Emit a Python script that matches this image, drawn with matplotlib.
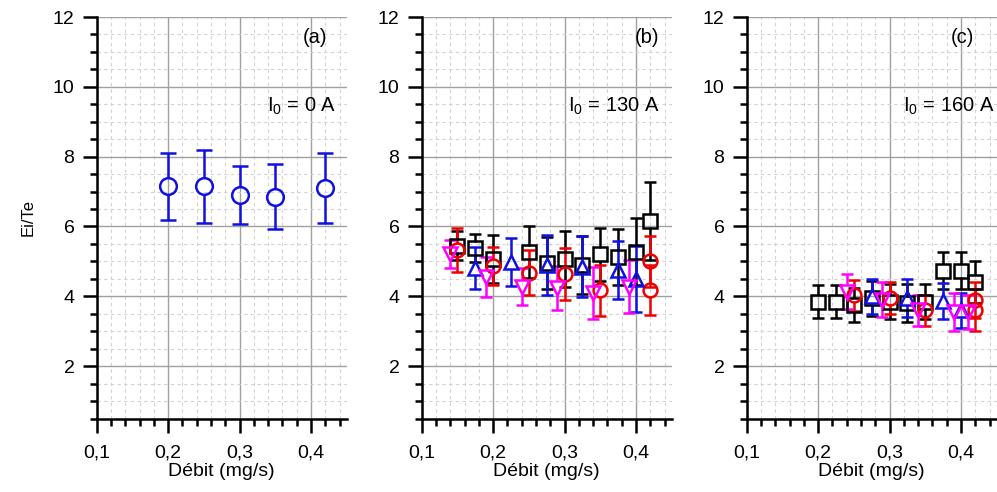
import numpy as np
import matplotlib
matplotlib.use('Agg')
import matplotlib.pyplot as plt
from matplotlib.ticker import MultipleLocator, FixedLocator, FuncFormatter

plt.rcParams['font.family'] = ['Liberation Sans', 'DejaVu Sans']
plt.rcParams['mathtext.fontset'] = 'custom'
plt.rcParams['mathtext.rm'] = 'Liberation Sans'
plt.rcParams['mathtext.it'] = 'Liberation Sans:italic'

# ---------------- data ----------------
# panel (a) I0 = 0 A
a_x = [0.20, 0.25, 0.30, 0.35, 0.42]
a_y = [7.15, 7.15, 6.90, 6.85, 7.10]
a_e = [0.96, 1.05, 0.82, 0.93, 1.00]

# panel (b) I0 = 130 A
b_black_x = [0.15, 0.175, 0.20, 0.25, 0.275, 0.30, 0.325, 0.35, 0.375, 0.40, 0.42]
b_black_y = [5.45, 5.38, 5.06, 5.26, 4.95, 5.07, 4.90, 5.20, 5.13, 5.28, 6.16]
b_black_e = [0.42, 0.40, 0.69, 0.75, 0.75, 0.80, 0.82, 0.75, 0.80, 0.97, 1.12]

b_blue_x = [0.175, 0.225, 0.275, 0.325, 0.375, 0.40]
b_blue_y = [4.82, 4.98, 4.90, 4.85, 4.74, 4.50]
b_blue_e = [0.60, 0.68, 0.86, 0.88, 0.83, 0.94]

b_red_x = [0.15, 0.20, 0.25, 0.30, 0.35, 0.42, 0.42]
b_red_y = [5.33, 4.86, 4.68, 4.63, 4.17, 5.00, 4.18]
b_red_e = [0.62, 0.54, 0.64, 0.75, 0.72, 0.72, 0.72]

b_mag_x = [0.14, 0.19, 0.24, 0.29, 0.34, 0.39]
b_mag_y = [5.20, 4.56, 4.27, 4.25, 4.10, 4.28]
b_mag_e = [0.40, 0.57, 0.53, 0.63, 0.74, 0.77]

# panel (c) I0 = 160 A
c_black_x = [0.20, 0.225, 0.25, 0.275, 0.30, 0.325, 0.35, 0.375, 0.40, 0.42]
c_black_y = [3.85, 3.85, 3.75, 3.95, 3.85, 3.80, 3.85, 4.73, 4.73, 4.42]
c_black_e = [0.46, 0.46, 0.50, 0.50, 0.50, 0.55, 0.50, 0.53, 0.53, 0.60]

c_blue_x = [0.275, 0.325, 0.375, 0.40]
c_blue_y = [4.00, 3.95, 3.87, 3.60]
c_blue_e = [0.50, 0.55, 0.52, 0.50]

c_red_x = [0.25, 0.30, 0.35, 0.42, 0.42]
c_red_y = [4.03, 3.95, 3.60, 3.90, 3.62]
c_red_e = [0.45, 0.45, 0.45, 0.52, 0.60]

c_mag_x = [0.24, 0.29, 0.34, 0.39, 0.41]
c_mag_y = [4.13, 3.90, 3.60, 3.55, 3.55]
c_mag_e = [0.50, 0.50, 0.45, 0.55, 0.50]

panel_tags = ['(a)', '(b)', '(c)']
panel_currents = ['I$_0$ = 0 A', 'I$_0$ = 130 A', 'I$_0$ = 160 A']
x_label = 'Débit (mg/s)'
y_label = 'Ei/Te'

BLACK = '#000000'
BLUE = '#1010e0'
RED = '#ee0000'
MAG = '#ff00ff'

# ---------------- figure ----------------
W, H = 997, 492
fig = plt.figure(figsize=(W / 100, H / 100), dpi=100)
lefts = [96.7, 421.7, 746.7]
ax_w = 250.0
ax_bottom = 418.5
ax_top = 17.0
axes = []
for L in lefts:
    ax = fig.add_axes([L / W, (H - ax_bottom) / H, ax_w / W, (ax_bottom - ax_top) / H])
    axes.append(ax)

xfmt = FuncFormatter(lambda v, p: f"{v:.1f}".replace('.', ','))
yfmt = FuncFormatter(lambda v, p: f"{v:g}")

YMIN, YMAX = 0.5, 12
for ax in axes:
    ax.set_xlim(0.1, 0.45)
    ax.set_ylim(YMIN, YMAX)
    ax.xaxis.set_major_locator(FixedLocator([0.1, 0.2, 0.3, 0.4]))
    ax.xaxis.set_minor_locator(MultipleLocator(0.02))
    ax.yaxis.set_major_locator(FixedLocator([2, 4, 6, 8, 10, 12]))
    ax.yaxis.set_minor_locator(MultipleLocator(0.5))
    ax.xaxis.set_major_formatter(xfmt)
    ax.yaxis.set_major_formatter(yfmt)
    ax.set_axisbelow(True)
    ax.grid(which='major', color='#a0a0a0', lw=1.0, ls='-')
    ax.grid(which='minor', color='#d2d2d2', lw=0.8, ls=(0, (3, 3)))
    for s in ('top', 'right'):
        ax.spines[s].set_visible(False)
    for s in ('left', 'bottom'):
        ax.spines[s].set_linewidth(1.8)
        ax.spines[s].set_color('black')
    ax.tick_params(which='major', direction='out', length=10, width=1.8,
                   labelsize=14)
    ax.tick_params(axis='x', which='major', pad=9)
    ax.tick_params(axis='y', which='major', pad=6)
    ax.tick_params(which='minor', direction='out', length=5, width=1.8)
    ax.set_xlabel(x_label, fontsize=14, labelpad=1)
    for t in ax.yaxis.get_major_ticks():
        if abs(t.get_loc() - 12) < 1e-9:
            t.gridline.set_visible(False)
    for t in ax.xaxis.get_major_ticks():
        if abs(t.get_loc() - 0.1) < 1e-9:
            t.gridline.set_visible(False)

axes[0].set_ylabel(y_label, fontsize=12, labelpad=12)

# data units per pixel along y
Y_PER_PX = (YMAX - YMIN) / (ax_bottom - ax_top)
LW = 1.8


def eb(ax, x, y, e, marker, color, ms, cap):
    """Origin-style error bars: hollow marker, bar stops at the marker edge."""
    x = np.asarray(x, float)
    y = np.asarray(y, float)
    e = np.asarray(e, float)
    gap = (ms * 100 / 72) / 2 * Y_PER_PX
    ax.vlines(x, y - e, y - gap, colors=color, lw=LW, zorder=2, clip_on=False)
    ax.vlines(x, y + gap, y + e, colors=color, lw=LW, zorder=2, clip_on=False)
    ax.plot(x, y - e, ls='none', marker='_', ms=2 * cap, mew=LW, color=color,
            zorder=2, clip_on=False)
    ax.plot(x, y + e, ls='none', marker='_', ms=2 * cap, mew=LW, color=color,
            zorder=2, clip_on=False)
    ax.plot(x, y, ls='none', marker=marker, ms=ms, mew=LW, mec=color,
            mfc='none', zorder=3, clip_on=False)


eb(axes[0], a_x, a_y, a_e, 'o', BLUE, 12, 6)

for ax, data in ((axes[1], ((b_black_x, b_black_y, b_black_e),
                             (b_blue_x, b_blue_y, b_blue_e),
                             (b_red_x, b_red_y, b_red_e),
                             (b_mag_x, b_mag_y, b_mag_e))),
                 (axes[2], ((c_black_x, c_black_y, c_black_e),
                             (c_blue_x, c_blue_y, c_blue_e),
                             (c_red_x, c_red_y, c_red_e),
                             (c_mag_x, c_mag_y, c_mag_e)))):
    (kx, ky, ke), (bx, by, be), (rx, ry, re), (mx, my, me) = data
    eb(ax, kx, ky, ke, 's', BLACK, 9.5, 4.5)
    eb(ax, rx, ry, re, 'o', RED, 10, 4.5)
    eb(ax, bx, by, be, '^', BLUE, 10.5, 4.5)
    eb(ax, mx, my, me, 'v', MAG, 10.5, 4.5)

tag_x = [0.873, 0.903, 0.861]
cur_x = [0.960, 0.953, 0.993]
for ax, tag, cur, tx, cx in zip(axes, panel_tags, panel_currents, tag_x, cur_x):
    ax.text(tx, 0.948, tag, transform=ax.transAxes, ha='center', va='center',
            fontsize=14.5)
    ax.text(cx, 0.763, cur, transform=ax.transAxes, ha='right', va='baseline',
            fontsize=14.5)

fig.savefig('out.png', dpi=100)
